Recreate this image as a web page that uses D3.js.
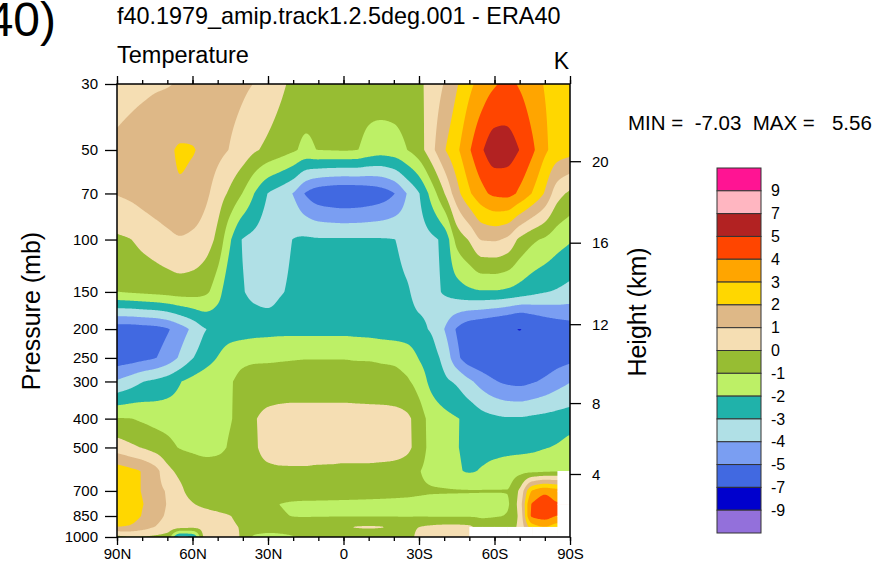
<!DOCTYPE html>
<html>
<head>
<meta charset="utf-8">
<script src="https://cdn.jsdelivr.net/npm/d3@7/dist/d3.min.js"></script>
<style>
html,body{margin:0;padding:0;background:#fff;}
svg{display:block;}
text{font-family:"Liberation Sans",Arial,Helvetica,sans-serif;fill:#000;}
</style>
</head>
<body>
<svg id="chart" width="879" height="577"></svg>
<script>
// ---------------- DATA ----------------
// latitudes 90N .. 90S every 5 degrees
const lats = d3.range(90, -91, -5);
// pressure levels (mb), top to bottom
const levels = [30,50,70,100,150,200,250,300,400,500,600,700,775,850,925,1000];
// temperature difference (K) at each level, 90N -> 90S
const t30  = [0.6,0.7,0.8,0.9,0.95,1.1,1.3,1.4,1.4,1.3,1.15,0.95,0.6,0.2,-0.2,-0.4,-0.5,-0.5,-0.5,-0.5,-0.5,-0.4,-0.4,-0.3,-0.15,0.4,1.05,1.9,2.75,3.4,3.9,4.2,3.9,3.4,2.95,2.7,2.5];
const t50  = [1.2,1.35,1.5,1.6,1.8,2.1,2.05,1.7,1.3,0.95,0.6,0.1,-0.2,-0.5,-0.85,-1.2,-0.98,-0.95,-0.92,-0.97,-1.3,-1.5,-1.4,-1.03,-0.4,0.7,1.9,2.8,3.9,4.9,5.56,5.45,4.98,4.2,3.2,2.6,2.4];
const t70  = [1.05,1.2,1.4,1.6,1.75,1.92,1.75,1.25,0.5,-0.2,-1.05,-2.1,-3.03,-3.5,-4.05,-5.1,-5.7,-5.9,-6.0,-5.95,-5.8,-5.55,-5.05,-4.02,-3.05,-1.6,-0.05,1.6,2.85,3.7,4.2,4.3,3.8,2.95,1.9,0.4,-0.2];
const t100 = [-0.15,-0.03,0.25,0.5,0.75,0.92,0.8,0.5,-0.3,-1.9,-3.05,-3.3,-3.5,-3.4,-2.98,-2.85,-2.9,-2.9,-2.9,-2.9,-2.9,-2.92,-2.98,-3.3,-3.4,-3.2,-2.7,-0.7,0.1,1.05,1.1,0.8,-0.2,-0.8,-1.15,-1.6,-1.9];
const t150 = [-1.0,-0.9,-0.8,-0.7,-0.6,-0.5,-0.55,-0.8,-1.6,-2.7,-2.95,-3.3,-3.5,-3.1,-2.8,-2.6,-2.5,-2.4,-2.4,-2.45,-2.5,-2.6,-2.7,-2.9,-3.2,-3.2,-2.9,-2.5,-2.2,-2.1,-2.1,-2.2,-2.4,-2.7,-2.95,-3.1,-3.3];
const t200 = [-5.6,-5.6,-5.5,-5.4,-5.1,-4.5,-3.8,-3.05,-2.8,-2.6,-2.5,-2.4,-2.35,-2.3,-2.3,-2.3,-2.3,-2.3,-2.3,-2.35,-2.4,-2.5,-2.6,-2.7,-2.85,-3.1,-4.0,-5.1,-5.8,-6.1,-6.4,-6.7,-7.03,-6.5,-6.0,-5.7,-5.5];
const t250 = [-5.6,-5.5,-5.3,-5.05,-4.6,-3.85,-3.05,-2.5,-1.95,-1.35,-1.15,-1.1,-1.1,-1.08,-1.05,-1.03,-1.03,-1.03,-1.03,-1.05,-1.05,-1.08,-1.1,-1.3,-2.05,-2.6,-3.3,-4.7,-5.6,-5.9,-6.1,-6.3,-6.4,-6.1,-5.8,-5.5,-5.3];
const t300 = [-3.9,-3.5,-3.05,-2.8,-2.5,-2.05,-1.7,-1.4,-1.2,-1.05,-0.8,-0.7,-0.65,-0.6,-0.6,-0.6,-0.6,-0.6,-0.6,-0.65,-0.7,-0.75,-0.8,-0.9,-1.4,-2.3,-2.8,-3.15,-3.8,-4.4,-4.9,-5.2,-5.3,-5.1,-4.8,-4.4,-4.05];
const t400 = [-0.95,-0.98,-1.15,-1.3,-1.4,-1.5,-1.5,-1.4,-1.25,-1.05,-0.6,-0.05,0.3,0.4,0.45,0.45,0.45,0.45,0.45,0.45,0.45,0.45,0.4,0.2,-0.5,-1.35,-1.7,-1.95,-2.2,-2.6,-2.8,-2.9,-2.9,-2.8,-2.7,-2.6,-2.5];
const t500 = [0.5,0.2,-0.05,-0.4,-0.7,-1.05,-1.2,-1.3,-1.2,-0.9,-0.6,-0.1,0.35,0.5,0.55,0.55,0.55,0.5,0.5,0.5,0.5,0.5,0.45,0.25,-0.5,-1.3,-1.7,-1.95,-2.25,-2.4,-2.4,-2.35,-2.3,-2.2,-2.05,-1.9,-1.6];
const t600 = [2.6,2.3,1.95,1.4,0.3,-0.2,-0.4,-0.55,-0.6,-0.55,-0.4,-0.3,-0.2,-0.15,-0.15,-0.15,-0.2,-0.2,-0.25,-0.25,-0.25,-0.3,-0.35,-0.5,-0.95,-1.3,-1.5,-1.85,-2.1,-1.9,-1.6,-1.4,-1.3,-1.3,-1.2,-1.1,-1.1];
const t700 = [2.7,2.3,1.95,1.35,0.9,0.2,-0.3,-0.5,-0.6,-0.65,-0.6,-0.5,-0.45,-0.4,-0.4,-0.4,-0.45,-0.5,-0.55,-0.6,-0.65,-0.7,-0.75,-0.8,-0.85,-0.9,-0.92,-0.93,-0.94,-0.95,-0.96,-0.97,0.2,3.1,3.8,3.5,null];
const t775 = [2.8,2.4,2.05,1.5,0.95,0.4,0.05,-0.2,-0.35,-0.45,-0.55,-0.7,-0.85,-1.02,-1.15,-1.2,-1.2,-1.2,-1.2,-1.2,-1.2,-1.2,-1.2,-1.2,-1.25,-1.3,-1.3,-1.3,-1.3,-1.3,-1.25,-1.1,0.5,4.1,4.5,4.1,null];
const t850 = [2.8,2.5,1.95,1.35,0.9,0.7,0.5,0.35,0.2,0.02,-0.3,-0.55,-0.75,-0.9,-1.02,-1.05,-1.05,-1.05,-1.05,-1.05,-1.05,-1.05,-1.05,-1.05,-1.05,-1.08,-1.1,-1.1,-1.1,-1.1,-1.05,-0.95,0.3,4.2,4.5,4.0,null];
const t925 = [2.0,1.9,1.5,1.0,0.7,0.45,0.3,0.3,0.3,0.15,-0.1,-0.4,-0.55,-0.6,-0.6,-0.5,-0.3,-0.15,-0.05,0.05,0.1,0.05,-0.1,-0.3,0.0,0.2,0.3,0.3,0.2,-0.6,-0.6,-0.5,0.3,2.5,3.0,2.5,null];
const t1000= [-0.3,-0.1,-0.1,-0.2,-0.5,-3.3,-3.0,0.2,0.3,0.35,-0.2,-1.2,-1.3,-1.2,-1.05,-0.9,-0.7,-0.6,-0.5,-0.5,-0.5,-0.5,-0.6,-0.5,0.3,0.5,0.5,0.4,0.2,null,null,null,null,null,null,null,null];

const contourLevels = [-9,-7,-5,-4,-3,-2,-1,0,1,2,3,4,5,7,9];
const fillColors = ["#9370DB","#0000CD","#4169E1","#7A9EF2","#B0E0E6","#20B2AA","#BDF066","#97BD33",
                    "#F5DEB3","#DEB887","#FFD700","#FFA500","#FF4500","#B22222","#FFB6C1","#FF1493"];
const pTicks = [30,50,70,100,150,200,250,300,400,500,700,850,1000];
const latTicks = [90,60,30,0,-30,-60,-90];
const latLabels = ["90N","60N","30N","0","30S","60S","90S"];
const latMinor = d3.range(90,-91,-10);
const hTicks = [4,8,12,16,20];
const minVal = -7.03, maxVal = 5.56;

// ---------------- LAYOUT ----------------
const X0=117, X1=570, Y0=84, Y1=537;
const svg = d3.select("#chart");
const x = d3.scaleLinear().domain([90,-90]).range([X0,X1]);
const y = d3.scaleLog().domain([30,1000]).range([Y0,Y1]);

// standard atmosphere: height (km) -> pressure (mb)
function stdPres(z){
  if (z <= 11) return 1013.25*Math.pow(1 - 0.0065*z*1000/288.15, 5.25588);
  return 226.32*Math.exp(-(z-11)*1000/6341.6);
}

// ---------------- FIELD ----------------
const grid = [t30,t50,t70,t100,t150,t200,t250,t300,t400,t500,t600,t700,t775,t850,t925,t1000];
const filled = grid.map(row => {
  const r = row.slice();
  for (let i=0;i<r.length;i++) if (r[i]==null){ let j=i-1; while(j>=0 && row[j]==null) j--; r[i]=row[j]; }
  return r;
});
function mslopes(xs, ys){
  const n=xs.length, d=new Array(n-1), m=new Array(n);
  for (let i=0;i<n-1;i++) d[i]=(ys[i+1]-ys[i])/(xs[i+1]-xs[i]);
  m[0]=d[0]; m[n-1]=d[n-2];
  for (let i=1;i<n-1;i++){
    if (d[i-1]*d[i] <= 0) m[i]=0;
    else {
      const h0=xs[i]-xs[i-1], h1=xs[i+1]-xs[i];
      const w1=2*h1+h0, w2=h1+2*h0;
      m[i]=(w1+w2)/(w1/d[i-1]+w2/d[i]);
    }
  }
  return m;
}
function herm(xs, ys, ms, xv){
  const n=xs.length;
  if (xv<=xs[0]) return ys[0];
  if (xv>=xs[n-1]) return ys[n-1];
  let i=d3.bisectRight(xs,xv)-1; if (i>n-2) i=n-2;
  const h=xs[i+1]-xs[i], t=(xv-xs[i])/h, t2=t*t, t3=t2*t;
  return (2*t3-3*t2+1)*ys[i] + (t3-2*t2+t)*h*ms[i] + (-2*t3+3*t2)*ys[i+1] + (t3-t2)*h*ms[i+1];
}
function lin(xs, ys, xv){
  const n=xs.length;
  if (xv<=xs[0]) return ys[0];
  if (xv>=xs[n-1]) return ys[n-1];
  let i=d3.bisectRight(xs,xv)-1; if (i>n-2) i=n-2;
  const t=(xv-xs[i])/(xs[i+1]-xs[i]);
  return ys[i]+(ys[i+1]-ys[i])*t;
}
const latIdx = lats.map((d,i)=>i);
const lnLev = levels.map(Math.log);
const latSl = filled.map(r => mslopes(latIdx, r));

const step = 1;
const nx = Math.round((X1-X0)/step), ny = Math.round((Y1-Y0)/step);
const values = new Float64Array(nx*ny);
for (let cx=0; cx<nx; cx++){
  const L = x.invert(X0+(cx+0.5)*step);
  const fi = (90-L)/5;
  const col = filled.map((r,k)=>herm(latIdx, r, latSl[k], fi));
  for (let cy=0; cy<ny; cy++){
    const p = y.invert(Y0+(cy+0.5)*step);
    values[cy*nx+cx] = lin(lnLev, col, Math.log(p));
  }
}
const contours = d3.contours().size([nx,ny]).thresholds(contourLevels)(values);
const path = d3.geoPath(d3.geoTransform({point:function(px,py){ this.stream.point(X0+px*step, Y0+py*step); }}));

svg.append("clipPath").attr("id","plotclip").append("rect")
  .attr("x",X0).attr("y",Y0).attr("width",X1-X0).attr("height",Y1-Y0);
const plot = svg.append("g").attr("clip-path","url(#plotclip)");
plot.append("rect").attr("x",X0).attr("y",Y0).attr("width",X1-X0).attr("height",Y1-Y0).attr("fill",fillColors[0]);
plot.selectAll("path.band").data(contours).enter().append("path")
  .attr("class","band").attr("d",d=>path(d)).attr("fill",(d,i)=>fillColors[i+1]);

// missing (below ground) cells
const blanks=[];
for (let k=0;k<levels.length-1;k++) for (let i=0;i<lats.length-1;i++){
  if (grid[k][i]==null||grid[k][i+1]==null||grid[k+1][i]==null||grid[k+1][i+1]==null)
    blanks.push([lats[i],lats[i+1],levels[k],levels[k+1]]);
}
plot.selectAll("rect.blank").data(blanks).enter().append("rect").attr("class","blank")
  .attr("x",d=>x(d[0])).attr("width",d=>x(d[1])-x(d[0])+0.5)
  .attr("y",d=>y(d[2])).attr("height",d=>y(d[3])-y(d[2])+0.5)
  .attr("fill","#fff");

// frame
svg.append("rect").attr("x",X0).attr("y",Y0).attr("width",X1-X0).attr("height",Y1-Y0)
  .attr("fill","none").attr("stroke","#000").attr("stroke-width",1.5);

function styleAxis(g, fs){
  g.select(".domain").remove();
  g.attr("font-family",null).attr("font-size",fs);
  g.selectAll("line").attr("stroke","#000").attr("stroke-width",1.3);
  g.selectAll("text").attr("fill","#000");
}
// bottom axis
styleAxis(svg.append("g").attr("transform",`translate(0,${Y1})`)
  .call(d3.axisBottom(x).tickValues(latMinor).tickSize(4).tickFormat("")),15);
styleAxis(svg.append("g").attr("transform",`translate(0,${Y1})`)
  .call(d3.axisBottom(x).tickValues(latTicks).tickSize(8).tickPadding(3).tickFormat((d,i)=>latLabels[i])),15);
// top axis
styleAxis(svg.append("g").attr("transform",`translate(0,${Y0})`)
  .call(d3.axisTop(x).tickValues(latMinor).tickSize(4).tickFormat("")),15);
styleAxis(svg.append("g").attr("transform",`translate(0,${Y0})`)
  .call(d3.axisTop(x).tickValues(latTicks).tickSize(8).tickFormat("")),15);
// left axis
styleAxis(svg.append("g").attr("transform",`translate(${X0},0)`)
  .call(d3.axisLeft(y).tickValues(pTicks).tickSize(12).tickPadding(7).tickFormat(d=>String(d))),15);
// right axis (height)
const gr = svg.append("g");
gr.selectAll("line").data(hTicks).enter().append("line")
  .attr("x1",X1).attr("x2",X1+11).attr("y1",d=>y(stdPres(d))).attr("y2",d=>y(stdPres(d)))
  .attr("stroke","#000").attr("stroke-width",1.3);
gr.selectAll("text").data(hTicks).enter().append("text")
  .attr("x",X1+22).attr("y",d=>y(stdPres(d))).attr("dy","0.35em")
  .attr("font-size",15).text(d=>d);

// texts
svg.append("text").attr("x",56).attr("y",36).attr("text-anchor","end").attr("font-size",48).text("40)");
svg.append("text").attr("x",117).attr("y",24).attr("font-size",23.4).text("f40.1979_amip.track1.2.5deg.001 - ERA40");
svg.append("text").attr("x",117).attr("y",63).attr("font-size",23.5).text("Temperature");
svg.append("text").attr("x",569).attr("y",69).attr("text-anchor","end").attr("font-size",23).text("K");
svg.append("text").attr("transform","translate(31,311) rotate(-90)").attr("text-anchor","middle")
  .attr("dy","0.35em").attr("font-size",25).text("Pressure (mb)");
svg.append("text").attr("transform","translate(637,312) rotate(-90)").attr("text-anchor","middle")
  .attr("dy","0.35em").attr("font-size",25).text("Height (km)");
svg.append("text").attr("x",628).attr("y",130).attr("font-size",20.5).style("white-space","pre")
  .text(`MIN =  ${minVal.toFixed(2)}  MAX =   ${maxVal.toFixed(2)}`);

// colorbar
const cb = d3.scaleLinear().domain([0,fillColors.length]).range([168,533]);
const cbColors = fillColors.slice().reverse();
const cbLabels = contourLevels.slice().reverse();
const gcb = svg.append("g");
gcb.selectAll("rect").data(cbColors).enter().append("rect")
  .attr("x",717).attr("width",44).attr("y",(d,i)=>cb(i)).attr("height",(d,i)=>cb(i+1)-cb(i))
  .attr("fill",d=>d).attr("stroke","#333").attr("stroke-width",1);
gcb.selectAll("text").data(cbLabels).enter().append("text")
  .attr("x",771).attr("y",(d,i)=>cb(i+1)).attr("dy","0.35em").attr("font-size",16).text(d=>d);
</script>
</body>
</html>
